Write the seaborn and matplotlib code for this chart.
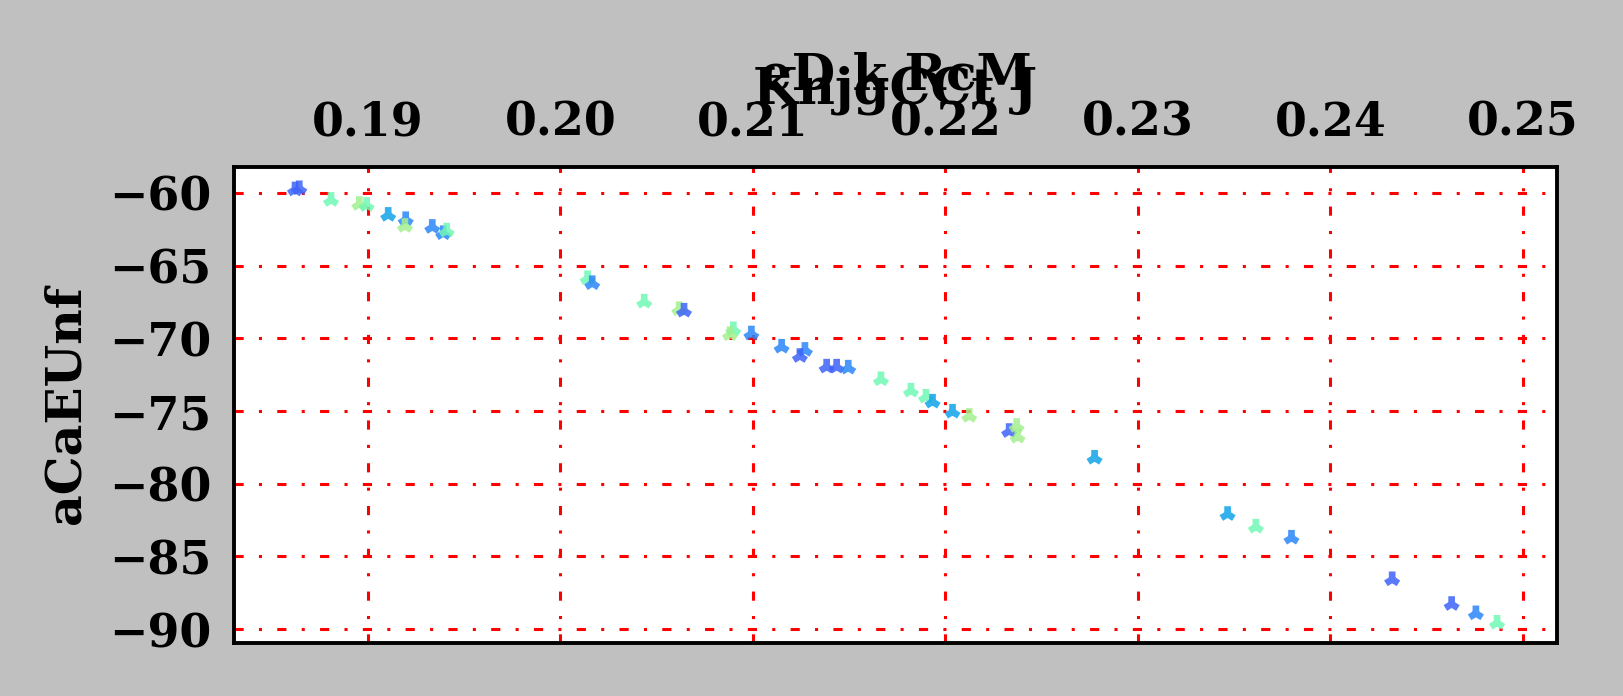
import pandas as pd
import seaborn as sns
import matplotlib.pyplot as plt

# valores
x_vals = [0.18621, 0.18643, 0.18808, 0.18955, 0.18993, 0.19105, 0.19196, 0.19192,
          0.19334, 0.19391, 0.19409, 0.20141, 0.20165, 0.20435, 0.20617, 0.20642,
          0.20898, 0.20881, 0.20992, 0.21149, 0.21270, 0.21244, 0.21383, 0.21435,
          0.21495, 0.21665, 0.21821, 0.21899, 0.21933, 0.22037, 0.22124, 0.22331,
          0.22370, 0.22375, 0.22775, 0.23466, 0.23613, 0.23798, 0.24321, 0.24630,
          0.24756, 0.24866]
y_vals = [-59.76, -59.68, -60.48, -60.76, -60.83, -61.51, -61.81, -62.27,
          -62.34, -62.77, -62.59, -65.87, -66.21, -67.48, -68.00, -68.10,
          -69.38, -69.72, -69.67, -70.58, -70.80, -71.22, -71.95, -71.95,
          -72.02, -72.82, -73.60, -74.02, -74.36, -75.05, -75.34, -76.38,
          -76.03, -76.77, -78.22, -82.09, -82.96, -83.72, -86.58, -88.28,
          -88.92, -89.57]
groups = ['b', 'b', 'm', 'g', 'm', 's', 'd', 'g',
          'd', 'd', 'm', 'm', 'd', 'm', 'g', 'b',
          'm', 'g', 'd', 'd', 'd', 'b', 'b', 'b',
          'd', 'm', 'm', 'm', 's', 's', 'g', 'b',
          'g', 'g', 's', 's', 'm', 'd', 'b', 'b',
          'd', 'm']
palette = {'b': '#3d63f8', 'd': '#2a86f8', 's': '#10a4e8', 'm': '#70f8b4', 'g': '#a2f08e'}

x_ticks = [0.19, 0.20, 0.21, 0.22, 0.23, 0.24, 0.25]
y_ticks = [-90, -85, -80, -75, -70, -65, -60]

df = pd.DataFrame({'x': x_vals, 'y': y_vals, 'grupo': groups})

sns.set_style("white")
plt.rcParams['font.family'] = ['DejaVu Serif']
plt.rcParams['font.weight'] = 'bold'
for k in ['text.color', 'axes.labelcolor', 'xtick.color', 'ytick.color']:
    plt.rcParams[k] = 'black'

fig = plt.figure(figsize=(8.12, 3.48), dpi=200, facecolor='#c0c0c0')
ax = fig.add_axes([0.1441, 0.0761, 0.8146, 0.684])
ax.set_facecolor('white')

sns.scatterplot(data=df, x='x', y='y', hue='grupo', palette=palette, marker='2',
                s=32, linewidth=2.4, alpha=0.85, legend=False, ax=ax, zorder=3)

ax.set_xlim(0.18304, 0.25177)
ax.set_ylim(-90.96, -58.21)
ax.set_xticks(x_ticks)
ax.set_yticks(y_ticks)
ax.xaxis.tick_top()
ax.xaxis.set_label_position('top')
ax.tick_params(axis='both', length=0, labelsize=16.5)
ax.tick_params(axis='x', pad=7.6)
ax.tick_params(axis='y', pad=8)
for lbl in ax.get_xticklabels() + ax.get_yticklabels():
    lbl.set_fontweight('bold')

ax.grid(True, color='red', linestyle=(0, (3, 5, 1, 5)), linewidth=1.1)
for sp in ax.spines.values():
    sp.set_visible(True)
    sp.set_color('black')
    sp.set_linewidth(1.4)

ax.set_xlabel('KnjgCCt J', fontsize=18.5, fontweight='bold')
ax.xaxis.set_label_coords(0.5, 1.133)
ax.set_ylabel('aCaEUnf', fontsize=17.6, fontweight='bold', labelpad=7)
ax.set_title('eD k RcM', fontsize=18, fontweight='bold', y=1.163, pad=0)

plt.savefig('out.png', dpi=200, facecolor=fig.get_facecolor())
plt.close()
